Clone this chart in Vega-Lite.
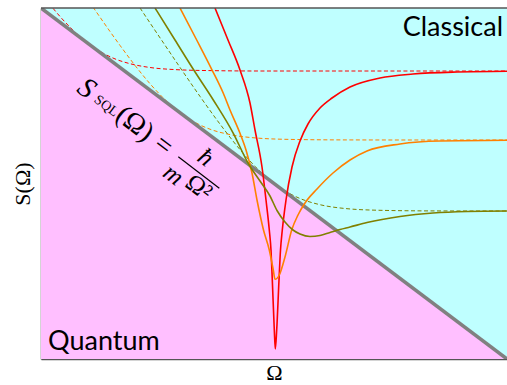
{
  "$schema": "https://vega.github.io/schema/vega-lite/v6.json",
  "width": 466,
  "height": 351,
  "autosize": {"type": "none"},
  "padding": {"left": 41, "top": 8, "right": 0, "bottom": 26},
  "config": {
    "view": {"stroke": null, "fill": "#bfffff"},
    "axis": {"ticks": false, "labels": false, "grid": false, "domainColor": "#555555", "domainWidth": 1.5, "zindex": 1,
      "titleFont": "Liberation Serif", "titleFontSize": 22, "titleFontWeight": "normal", "titleColor": "#000000"}
  },
  "datasets": {
    "sql": [{"x": 0, "y": 351}, {"x": 466, "y": 0}],
    "curves": [
      {"series": "red", "style": "solid", "x": 174, "y": 351},
      {"series": "red", "style": "solid", "x": 187, "y": 319},
      {"series": "red", "style": "solid", "x": 199, "y": 289},
      {"series": "red", "style": "solid", "x": 209, "y": 256},
      {"series": "red", "style": "solid", "x": 214, "y": 229},
      {"series": "red", "style": "solid", "x": 221, "y": 192},
      {"series": "red", "style": "solid", "x": 225, "y": 159},
      {"series": "red", "style": "solid", "x": 228.3, "y": 129},
      {"series": "red", "style": "solid", "x": 230, "y": 109},
      {"series": "red", "style": "solid", "x": 231.3, "y": 79},
      {"series": "red", "style": "solid", "x": 233.3, "y": 29},
      {"series": "red", "style": "solid", "x": 234.3, "y": 10},
      {"series": "red", "style": "solid", "x": 235.7, "y": 29},
      {"series": "red", "style": "solid", "x": 238, "y": 79},
      {"series": "red", "style": "solid", "x": 239.5, "y": 109},
      {"series": "red", "style": "solid", "x": 241.3, "y": 129},
      {"series": "red", "style": "solid", "x": 245, "y": 159},
      {"series": "red", "style": "solid", "x": 251, "y": 192},
      {"series": "red", "style": "solid", "x": 259, "y": 218},
      {"series": "red", "style": "solid", "x": 267, "y": 235},
      {"series": "red", "style": "solid", "x": 279, "y": 251},
      {"series": "red", "style": "solid", "x": 291, "y": 261},
      {"series": "red", "style": "solid", "x": 309, "y": 272},
      {"series": "red", "style": "solid", "x": 339, "y": 281},
      {"series": "red", "style": "solid", "x": 372, "y": 285},
      {"series": "red", "style": "solid", "x": 416, "y": 287},
      {"series": "red", "style": "solid", "x": 467, "y": 287.7},
      {"series": "red", "style": "dashed", "x": 12, "y": 350.7},
      {"series": "red", "style": "dashed", "x": 19, "y": 342.5},
      {"series": "red", "style": "dashed", "x": 29, "y": 331.8},
      {"series": "red", "style": "dashed", "x": 39, "y": 322.3},
      {"series": "red", "style": "dashed", "x": 49, "y": 314.2},
      {"series": "red", "style": "dashed", "x": 59, "y": 307.6},
      {"series": "red", "style": "dashed", "x": 74, "y": 300.1},
      {"series": "red", "style": "dashed", "x": 89, "y": 295.3},
      {"series": "red", "style": "dashed", "x": 109, "y": 291.5},
      {"series": "red", "style": "dashed", "x": 134, "y": 289.4},
      {"series": "red", "style": "dashed", "x": 169, "y": 288.4},
      {"series": "red", "style": "dashed", "x": 219, "y": 288},
      {"series": "red", "style": "dashed", "x": 299, "y": 288},
      {"series": "red", "style": "dashed", "x": 379, "y": 288},
      {"series": "red", "style": "dashed", "x": 467, "y": 288},
      {"series": "orange", "style": "solid", "x": 139, "y": 351},
      {"series": "orange", "style": "solid", "x": 155.7, "y": 319},
      {"series": "orange", "style": "solid", "x": 170.7, "y": 289.7},
      {"series": "orange", "style": "solid", "x": 182.3, "y": 265.7},
      {"series": "orange", "style": "solid", "x": 189, "y": 249},
      {"series": "orange", "style": "solid", "x": 199, "y": 225.7},
      {"series": "orange", "style": "solid", "x": 205, "y": 209},
      {"series": "orange", "style": "solid", "x": 211, "y": 186},
      {"series": "orange", "style": "solid", "x": 216, "y": 159},
      {"series": "orange", "style": "solid", "x": 222.5, "y": 129},
      {"series": "orange", "style": "solid", "x": 228.3, "y": 109},
      {"series": "orange", "style": "solid", "x": 232.3, "y": 89},
      {"series": "orange", "style": "solid", "x": 234, "y": 79.7},
      {"series": "orange", "style": "solid", "x": 238.3, "y": 84},
      {"series": "orange", "style": "solid", "x": 244, "y": 102},
      {"series": "orange", "style": "solid", "x": 250.7, "y": 129},
      {"series": "orange", "style": "solid", "x": 257, "y": 144},
      {"series": "orange", "style": "solid", "x": 264, "y": 156},
      {"series": "orange", "style": "solid", "x": 276, "y": 170},
      {"series": "orange", "style": "solid", "x": 292, "y": 186},
      {"series": "orange", "style": "solid", "x": 309, "y": 199},
      {"series": "orange", "style": "solid", "x": 326, "y": 208},
      {"series": "orange", "style": "solid", "x": 359, "y": 215},
      {"series": "orange", "style": "solid", "x": 399, "y": 218},
      {"series": "orange", "style": "solid", "x": 467, "y": 218.7},
      {"series": "orange", "style": "dashed", "x": 52, "y": 351.9},
      {"series": "orange", "style": "dashed", "x": 59, "y": 341.8},
      {"series": "orange", "style": "dashed", "x": 69, "y": 327.5},
      {"series": "orange", "style": "dashed", "x": 79, "y": 313.6},
      {"series": "orange", "style": "dashed", "x": 94, "y": 293.6},
      {"series": "orange", "style": "dashed", "x": 109, "y": 275.3},
      {"series": "orange", "style": "dashed", "x": 124, "y": 259.4},
      {"series": "orange", "style": "dashed", "x": 139, "y": 246.4},
      {"series": "orange", "style": "dashed", "x": 154, "y": 236.6},
      {"series": "orange", "style": "dashed", "x": 169, "y": 229.8},
      {"series": "orange", "style": "dashed", "x": 189, "y": 224.4},
      {"series": "orange", "style": "dashed", "x": 214, "y": 221.1},
      {"series": "orange", "style": "dashed", "x": 249, "y": 219.6},
      {"series": "orange", "style": "dashed", "x": 299, "y": 219.1},
      {"series": "orange", "style": "dashed", "x": 379, "y": 219},
      {"series": "orange", "style": "dashed", "x": 467, "y": 219},
      {"series": "olive", "style": "solid", "x": 114, "y": 351},
      {"series": "olive", "style": "solid", "x": 134, "y": 319},
      {"series": "olive", "style": "solid", "x": 152.3, "y": 289.7},
      {"series": "olive", "style": "solid", "x": 172.3, "y": 259},
      {"series": "olive", "style": "solid", "x": 192.3, "y": 225.7},
      {"series": "olive", "style": "solid", "x": 207, "y": 196},
      {"series": "olive", "style": "solid", "x": 219, "y": 178},
      {"series": "olive", "style": "solid", "x": 229, "y": 163},
      {"series": "olive", "style": "solid", "x": 236, "y": 148.5},
      {"series": "olive", "style": "solid", "x": 244, "y": 137},
      {"series": "olive", "style": "solid", "x": 252, "y": 129},
      {"series": "olive", "style": "solid", "x": 259, "y": 125},
      {"series": "olive", "style": "solid", "x": 269, "y": 122.5},
      {"series": "olive", "style": "solid", "x": 279, "y": 123.5},
      {"series": "olive", "style": "solid", "x": 289, "y": 126.5},
      {"series": "olive", "style": "solid", "x": 299, "y": 129.5},
      {"series": "olive", "style": "solid", "x": 309, "y": 132},
      {"series": "olive", "style": "solid", "x": 326, "y": 136.5},
      {"series": "olive", "style": "solid", "x": 359, "y": 142.5},
      {"series": "olive", "style": "solid", "x": 392, "y": 146},
      {"series": "olive", "style": "solid", "x": 426, "y": 147.5},
      {"series": "olive", "style": "solid", "x": 467, "y": 148},
      {"series": "olive", "style": "dashed", "x": 99, "y": 351.1},
      {"series": "olive", "style": "dashed", "x": 109, "y": 336.1},
      {"series": "olive", "style": "dashed", "x": 124, "y": 313.8},
      {"series": "olive", "style": "dashed", "x": 139, "y": 291.6},
      {"series": "olive", "style": "dashed", "x": 159, "y": 262.6},
      {"series": "olive", "style": "dashed", "x": 179, "y": 234.9},
      {"series": "olive", "style": "dashed", "x": 199, "y": 209.4},
      {"series": "olive", "style": "dashed", "x": 214, "y": 192.7},
      {"series": "olive", "style": "dashed", "x": 229, "y": 178.8},
      {"series": "olive", "style": "dashed", "x": 244, "y": 168.1},
      {"series": "olive", "style": "dashed", "x": 259, "y": 160.5},
      {"series": "olive", "style": "dashed", "x": 279, "y": 154.3},
      {"series": "olive", "style": "dashed", "x": 304, "y": 150.5},
      {"series": "olive", "style": "dashed", "x": 339, "y": 148.7},
      {"series": "olive", "style": "dashed", "x": 389, "y": 148.1},
      {"series": "olive", "style": "dashed", "x": 467, "y": 148}
    ]
  },
  "layer": [
    {
      "data": {"name": "sql"},
      "mark": {"type": "area", "color": "#ffbfff", "clip": true},
      "encoding": {
        "x": {"field": "x", "type": "quantitative", "scale": {"domain": [0, 466], "nice": false, "zero": false},
          "axis": {"title": "Ω", "titlePadding": 3}},
        "y": {"field": "y", "type": "quantitative", "scale": {"domain": [0, 351], "nice": false, "zero": false},
          "axis": {"title": "S(Ω)", "titlePadding": 7}},
        "y2": {"datum": 0}
      }
    },
    {
      "data": {"name": "curves"},
      "transform": [{"filter": "datum.style === 'dashed'"}],
      "mark": {"type": "line", "strokeWidth": 1, "strokeDash": [4, 2.5], "clip": true, "interpolate": "monotone"},
      "encoding": {
        "x": {"field": "x", "type": "quantitative"},
        "y": {"field": "y", "type": "quantitative"},
        "color": {"field": "series", "type": "nominal", "legend": null,
          "scale": {"domain": ["red", "orange", "olive"], "range": ["#ff0000", "#ff8000", "#808000"]}}
      }
    },
    {
      "data": {"name": "sql"},
      "mark": {"type": "line", "color": "#808080", "strokeWidth": 3.5, "clip": true},
      "encoding": {
        "x": {"field": "x", "type": "quantitative"},
        "y": {"field": "y", "type": "quantitative"}
      }
    },
    {
      "data": {"name": "curves"},
      "transform": [{"filter": "datum.style === 'solid'"}],
      "mark": {"type": "line", "strokeWidth": 1.6, "clip": true, "interpolate": "monotone"},
      "encoding": {
        "x": {"field": "x", "type": "quantitative"},
        "y": {"field": "y", "type": "quantitative"},
        "color": {"field": "series", "type": "nominal", "legend": null}
      }
    },
    {
      "data": {"values": [{}]},
      "mark": {"type": "rule", "color": "#555555", "strokeWidth": 1.5},
      "encoding": {"y": {"datum": 351}}
    },
    {
      "data": {"values": [{}]},
      "mark": {"type": "text", "text": "S", "font": "Liberation Serif", "fontStyle": "italic", "fontSize": 29, "angle": 37, "align": "center", "baseline": "middle", "color": "#000000"},
      "encoding": {"x": {"datum": 45.7}, "y": {"datum": 270.7}}
    },
    {
      "data": {"values": [{}]},
      "mark": {"type": "text", "text": "SQL", "font": "Liberation Serif", "fontSize": 14, "angle": 37, "align": "center", "baseline": "middle", "color": "#000000"},
      "encoding": {"x": {"datum": 65.2}, "y": {"datum": 253}}
    },
    {
      "data": {"values": [{}]},
      "mark": {"type": "text", "text": "(Ω)", "font": "Liberation Serif", "fontSize": 28, "angle": 37, "align": "center", "baseline": "middle", "color": "#000000"},
      "encoding": {"x": {"datum": 93.5}, "y": {"datum": 235}}
    },
    {
      "data": {"values": [{}]},
      "mark": {"type": "text", "text": "=", "font": "Liberation Serif", "fontSize": 28, "angle": 37, "align": "center", "baseline": "middle", "color": "#000000"},
      "encoding": {"x": {"datum": 122.3}, "y": {"datum": 213.3}}
    },
    {
      "data": {"values": [{}]},
      "mark": {"type": "text", "text": "ħ", "font": "Liberation Serif", "fontStyle": "italic", "fontSize": 25, "angle": 37, "align": "center", "baseline": "middle", "color": "#000000"},
      "encoding": {"x": {"datum": 164.7}, "y": {"datum": 201.7}}
    },
    {
      "data": {"values": [{}]},
      "mark": {"type": "rule", "color": "#000000", "strokeWidth": 1.2},
      "encoding": {"x": {"datum": 137.3}, "y": {"datum": 202.3}, "x2": {"datum": 178.3}, "y2": {"datum": 170.7}}
    },
    {
      "data": {"values": [{}]},
      "mark": {"type": "text", "text": "m", "font": "Liberation Serif", "fontStyle": "italic", "fontSize": 25, "angle": 37, "align": "center", "baseline": "middle", "color": "#000000"},
      "encoding": {"x": {"datum": 132.5}, "y": {"datum": 184.5}}
    },
    {
      "data": {"values": [{}]},
      "mark": {"type": "text", "text": "Ω²", "font": "Liberation Serif", "fontSize": 25, "angle": 37, "align": "center", "baseline": "middle", "color": "#000000"},
      "encoding": {"x": {"datum": 158}, "y": {"datum": 171.7}}
    },
    {
      "data": {"values": [{}]},
      "mark": {"type": "text", "text": "Classical", "font": "Lato", "fontSize": 27, "align": "right", "baseline": "alphabetic", "color": "#000000"},
      "encoding": {"x": {"datum": 462}, "y": {"datum": 323}}
    },
    {
      "data": {"values": [{}]},
      "mark": {"type": "text", "text": "Quantum", "font": "Lato", "fontSize": 27, "align": "left", "baseline": "alphabetic", "color": "#000000"},
      "encoding": {"x": {"datum": 7}, "y": {"datum": 9}}
    }
  ]
}
